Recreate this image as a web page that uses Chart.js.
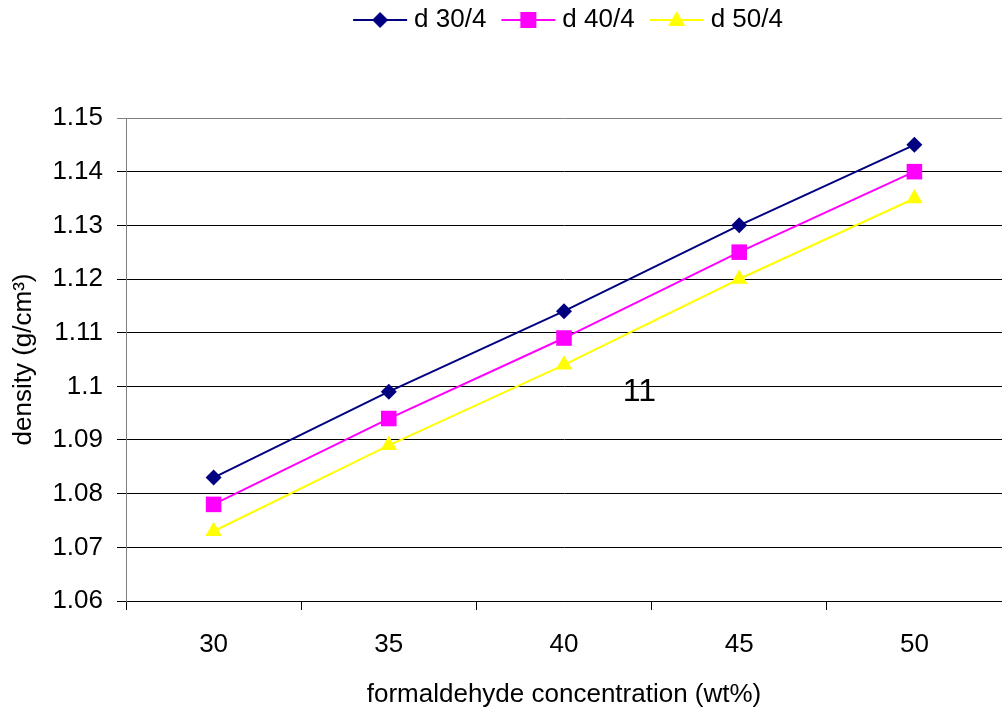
<!DOCTYPE html>
<html>
<head>
<meta charset="utf-8">
<script src="https://cdn.jsdelivr.net/npm/chart.js@4.4.0/dist/chart.umd.min.js"></script>
<style>
    html, body { margin: 0; padding: 0; background: #ffffff; }
    #wrap { width: 1002px; height: 716px; }
</style>
</head>
<body>
<div id="wrap"><canvas id="myChart" width="1002" height="716"></canvas></div>
<script>
// data
var concentrations = ["30", "35", "40", "45", "50"];
var d30 = [1.083, 1.099, 1.114, 1.130, 1.145];
var d40 = [1.078, 1.094, 1.109, 1.125, 1.140];
var d50 = [1.073, 1.089, 1.104, 1.120, 1.135];
var seriesNames = ["d 30/4", "d 40/4", "d 50/4"];
var yMin = 1.06;
var yMax = 1.15;
var yStep = 0.01;
var noteText = "11";
var noteAt = [2.43, 1.0989]; // category index, density

var font = "'Liberation Sans', Arial, sans-serif";
var colors = ["#000080", "#ff00ff", "#ffff00"];
var styles = ["rectRot", "rect", "triangle"];
var radii = [8, 11, 9.5];

// legend pictures: line with the marker in the middle (drawn off-centre on purpose,
// so the text sits close to the line like in the original)
function legendIcon(color, style) {
    var c = document.createElement('canvas');
    c.width = 80;
    c.height = 24;
    var g = c.getContext('2d');
    var x0 = 20, x1 = 74, mx = 47, my = 12;
    g.strokeStyle = color;
    g.lineWidth = 2;
    g.beginPath();
    g.moveTo(x0, my);
    g.lineTo(x1, my);
    g.stroke();
    g.fillStyle = color;
    g.beginPath();
    if (style == "rectRot") {
        g.moveTo(mx, my - 8); g.lineTo(mx + 8, my); g.lineTo(mx, my + 8); g.lineTo(mx - 8, my);
    } else if (style == "rect") {
        g.rect(mx - 8, my - 8, 16, 16);
    } else {
        g.moveTo(mx, my - 9); g.lineTo(mx + 8.5, my + 6); g.lineTo(mx - 8.5, my + 6);
    }
    g.closePath();
    g.fill();
    return c;
}
var icons = [0, 1, 2].map(function (i) { return legendIcon(colors[i], styles[i]); });

var notePlugin = {
    id: 'note',
    beforeLayout: function (chart) {
        // leave room between legend and plot like the original
        if (chart.legend && !chart.legend._patched) {
            var orig = chart.legend.fit;
            chart.legend.fit = function () {
                orig.call(this);
                this.height = 118;
            };
            chart.legend._patched = true;
        }
    },
    afterDatasetsDraw: function (chart) {
        var ctx = chart.ctx;
        var x = chart.scales.x.getPixelForValue(noteAt[0]);
        var y = chart.scales.y.getPixelForValue(noteAt[1]);
        ctx.save();
        ctx.font = "32px " + font;
        ctx.fillStyle = "#000000";
        ctx.textAlign = "center";
        ctx.textBaseline = "middle";
        ctx.fillText(noteText, x, y);
        ctx.restore();
    }
};

var allData = [d30, d40, d50];
var datasets = [];
for (var i = 0; i < 3; i++) {
    datasets.push({
        label: seriesNames[i],
        data: allData[i],
        borderColor: colors[i],
        backgroundColor: colors[i],
        borderWidth: 2,
        pointStyle: styles[i],
        pointRadius: radii[i],
        pointHoverRadius: radii[i],
        pointBorderWidth: 0,
        tension: 0
    });
}

var ctx = document.getElementById("myChart").getContext('2d');
var myChart = new Chart(ctx, {
    type: 'line',
    data: {
        labels: concentrations,
        datasets: datasets
    },
    options: {
        responsive: false,
        animation: false,
        // plot runs a little past the right edge in the original
        layout: { autoPadding: false, padding: { left: 0, right: -6, top: 0, bottom: 0 } },
        plugins: {
            tooltip: { enabled: false },
            legend: {
                position: 'top',
                align: 'center',
                fullSize: false,
                labels: {
                    usePointStyle: true,
                    pointStyleWidth: 56,
                    padding: 7,
                    color: '#000000',
                    font: { family: font, size: 26 },
                    generateLabels: function (chart) {
                        var items = Chart.defaults.plugins.legend.labels.generateLabels(chart);
                        items.forEach(function (it, k) { it.pointStyle = icons[k]; });
                        return items;
                    }
                }
            }
        },
        scales: {
            x: {
                offset: true,
                grid: {
                    offset: true,
                    drawOnChartArea: false,
                    drawTicks: true,
                    tickLength: 9,
                    color: '#000000'
                },
                border: { color: '#000000', width: 1 },
                ticks: {
                    color: '#000000',
                    padding: 19,
                    font: { family: font, size: 26 }
                },
                title: {
                    display: true,
                    text: 'formaldehyde concentration (wt%)',
                    color: '#000000',
                    font: { family: font, size: 26 },
                    padding: { top: 0, bottom: 6 }
                },
                afterFit: function (scale) {
                    scale.height = 115;
                    scale.paddingLeft = 0;
                    scale.paddingRight = 0;
                }
            },
            y: {
                min: yMin,
                max: yMax,
                grid: {
                    tickLength: 9,
                    color: function (c) { return c.index == 9 ? '#808080' : '#000000'; }
                },
                border: { color: '#808080', width: 1 },
                ticks: {
                    stepSize: yStep,
                    color: '#000000',
                    padding: 14,
                    font: { family: font, size: 26 },
                    callback: function (v) { return String(Number(v.toFixed(2))); }
                },
                title: {
                    display: true,
                    text: 'density (g/cm³)',
                    color: '#000000',
                    font: { family: font, size: 26 },
                    padding: { top: 8, bottom: 0 }
                },
                afterFit: function (scale) { scale.width = 126; }
            }
        }
    },
    plugins: [notePlugin]
});
</script>
</body>
</html>
